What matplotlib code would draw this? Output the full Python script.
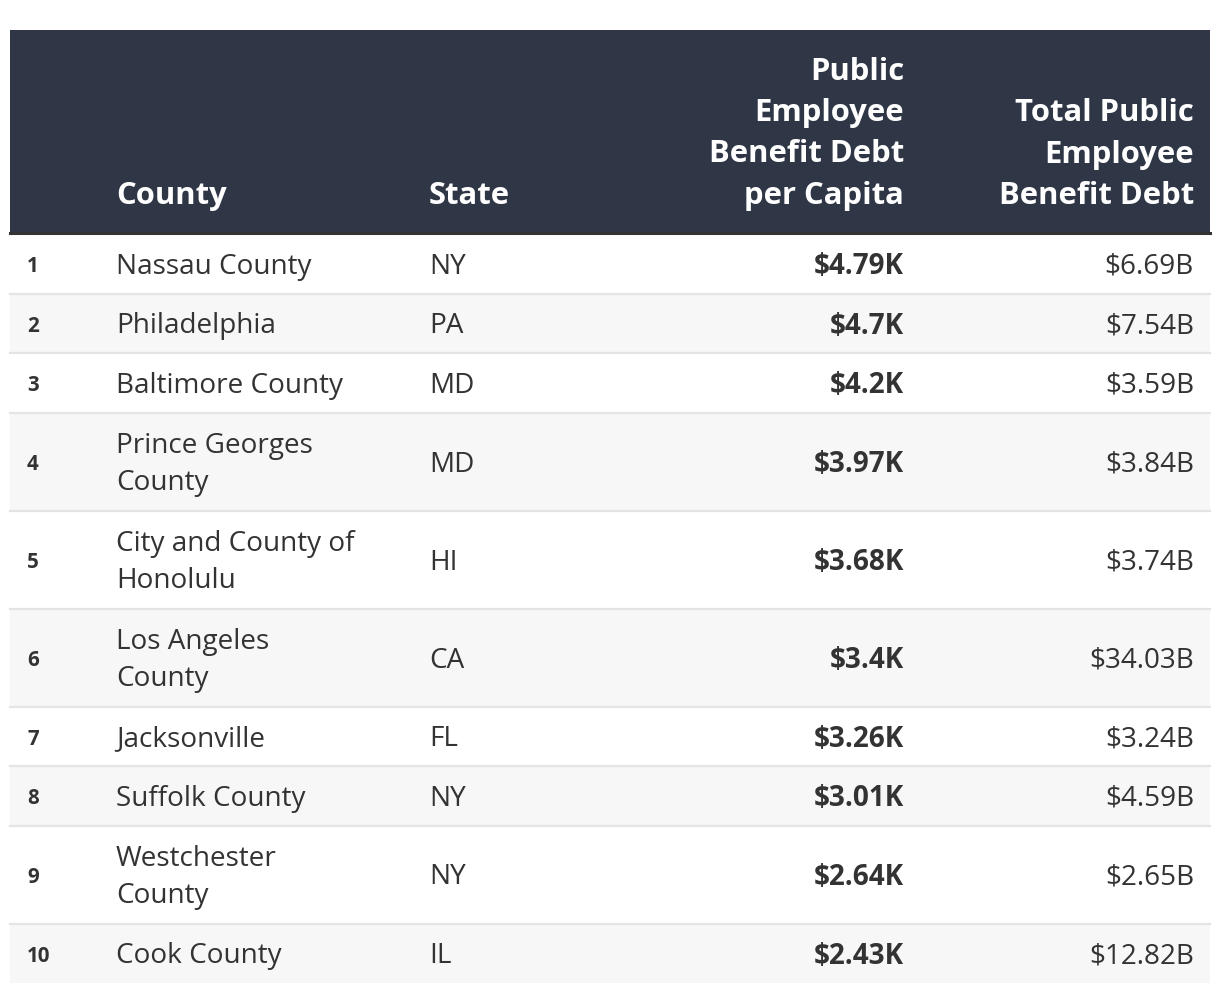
import matplotlib.pyplot as plt
from matplotlib.patches import Rectangle

plt.rcParams['font.family'] = ['Open Sans', 'DejaVu Sans']

ranks = ['1', '2', '3', '4', '5', '6', '7', '8', '9', '10']
counties = ['Nassau County', 'Philadelphia', 'Baltimore County', 'Prince Georges\nCounty',
            'City and County of\nHonolulu', 'Los Angeles\nCounty', 'Jacksonville',
            'Suffolk County', 'Westchester\nCounty', 'Cook County']
states = ['NY', 'PA', 'MD', 'MD', 'HI', 'CA', 'FL', 'NY', 'NY', 'IL']
per_capita = ['$4.79K', '$4.7K', '$4.2K', '$3.97K', '$3.68K', '$3.4K', '$3.26K',
              '$3.01K', '$2.64K', '$2.43K']
total_debt = ['$6.69B', '$7.54B', '$3.59B', '$3.84B', '$3.74B', '$34.03B', '$3.24B',
              '$4.59B', '$2.65B', '$12.82B']
headers = ['County', 'State', 'Public\nEmployee\nBenefit Debt\nper Capita',
           'Total Public\nEmployee\nBenefit Debt']

W, H = 1220, 994
fig = plt.figure(figsize=(W / 100, H / 100), dpi=100)
ax = fig.add_axes([0, 0, 1, 1])
ax.set_xlim(0, W)
ax.set_ylim(H, 0)
ax.axis('off')

left, right = 10, 1210
head_top, head_bot = 30, 232
dark = '#2f3747'
txt = '#333333'

# header
ax.add_patch(Rectangle((left, head_top), right - left, head_bot - head_top, color=dark, lw=0))
ax.plot([left, right], [head_bot + 1, head_bot + 1], color='#333333', lw=2.2)
hx = [116, 429, 904, 1194]
ha = ['left', 'left', 'right', 'right']
for x, a, h in zip(hx, ha, headers):
    ax.text(x, head_bot - 28, h, ha=a, va='baseline', color='white', fontsize=22.3,
            fontweight='bold', linespacing=1.5, multialignment=a)

# body rows
y = head_bot + 2
for i in range(len(ranks)):
    nlines = counties[i].count('\n') + 1
    rh = 59.5 if nlines == 1 else 98
    bg = 'white' if i % 2 == 0 else '#f7f7f7'
    ax.add_patch(Rectangle((left, y), right - left, rh, color=bg, lw=0))
    if i > 0:
        ax.plot([left, right], [y, y], color='#e4e4e4', lw=1.6)
    cy = y + rh / 2 + 3
    ax.text(27, cy, ranks[i], ha='left', va='center', color=txt, fontsize=14.8, fontweight='bold')
    ax.text(116, cy, counties[i], ha='left', va='center', color=txt, fontsize=20.1,
            linespacing=1.42)
    ax.text(429, cy, states[i], ha='left', va='center', color=txt, fontsize=20.1)
    ax.text(904, cy, per_capita[i], ha='right', va='center', color=txt, fontsize=20.1,
            fontweight='bold')
    ax.text(1194, cy, total_debt[i], ha='right', va='center', color=txt, fontsize=20.1)
    y += rh

fig.savefig('out.png', dpi=100, facecolor='white')
